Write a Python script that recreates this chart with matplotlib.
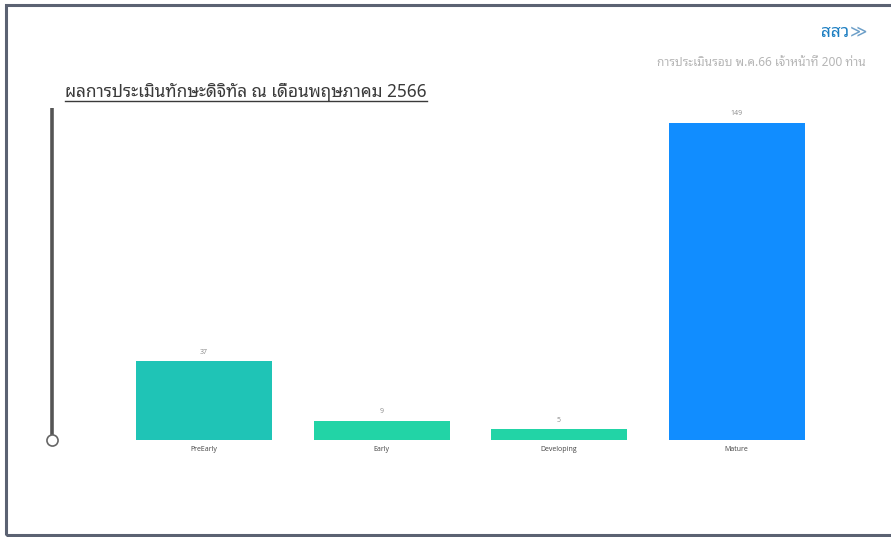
import matplotlib
matplotlib.use("Agg")
import matplotlib.pyplot as plt
from matplotlib.lines import Line2D
from matplotlib.patches import Rectangle

categories = ["PreEarly", "Early", "Developing", "Mature"]
values = [37, 9, 5, 149]
colors = ["#1fc4b6", "#22d4a6", "#22d4a6", "#118dff"]

title_text = "ผลการประเมินทักษะดิจิทัล ณ เดือนพฤษภาคม 2566"
subtitle_text = "การประเมินรอบ พ.ค.66 เจ้าหน้าที่ 200 ท่าน"
logo_text = "สสว"

THAI = ["Noto Sans Thai Looped", "Noto Sans Thai", "DejaVu Sans"]
LATIN = ["Open Sans", "DejaVu Sans"]

W, H = 891, 537
fig = plt.figure(figsize=(W / 100, H / 100), dpi=100)
fig.patch.set_facecolor("white")

def fx(px):
    return px / W

def fy(py):
    return 1 - py / H

# outer frame (right edge runs off the picture)
fig.add_artist(Rectangle((fx(6), fy(535)), fx(900) - fx(6), fy(5) - fy(535),
                         transform=fig.transFigure, fill=False,
                         edgecolor="#5b6272", linewidth=2.2))

# axes area: category 0 center at px 204, spacing 177.5 px; baseline px 440, 149 -> px 123
left_px, right_px = 45, 850
top_px, bot_px = 100, 440
ax = fig.add_axes([fx(left_px), fy(bot_px), fx(right_px) - fx(left_px), fy(top_px) - fy(bot_px)])
step = 177.5
x0 = (left_px - 204) / step
x1 = (right_px - 204) / step
ppu = (440 - 123) / 149.0
ax.set_xlim(x0, x1)
ax.set_ylim(0, (bot_px - top_px) / ppu)
ax.axis("off")

xs = list(range(len(categories)))
ax.bar(xs, values, width=136 / step, color=colors, edgecolor="none")
for x, v in zip(xs, values):
    ax.annotate(str(v), (x, v), xytext=(0, 4), textcoords="offset points",
                ha="center", va="bottom", fontsize=5, color="#8a8a8a", family=LATIN)
    ax.annotate(categories[x], (x, 0), xytext=(0, -4), textcoords="offset points",
                ha="center", va="top", fontsize=5, color="#444444", family=LATIN)

# vertical slider decoration
fig.add_artist(Line2D([fx(52), fx(52)], [fy(108), fy(435)], transform=fig.transFigure,
                      color="#555555", linewidth=2.6, solid_capstyle="butt"))
fig.add_artist(Line2D([fx(52)], [fy(440)], transform=fig.transFigure, marker="o",
                      markersize=8, markerfacecolor="white", markeredgecolor="#666666",
                      markeredgewidth=1.2, linestyle="none"))

# title with underline
t = fig.text(fx(65), fy(97), title_text, ha="left", va="baseline", fontsize=12.4,
             color="#3a3a3a", family=THAI)
fig.canvas.draw()
bb = t.get_window_extent()
fig.add_artist(Line2D([bb.x0 / W, bb.x1 / W], [fy(101), fy(101)], transform=fig.transFigure,
                      color="#3a3a3a", linewidth=1.0))

# logo and subtitle
fig.text(fx(849), fy(32), logo_text, ha="right", va="center", fontsize=12.5, fontweight="bold",
         color="#1e7fc2", family=THAI)
fig.text(fx(850), fy(31), "≫", ha="left", va="center", fontsize=12, color="#6d9fc8",
         family=["DejaVu Sans"])
fig.text(fx(866), fy(62), subtitle_text, ha="right", va="center", fontsize=8.6,
         color="#b5b5b5", family=THAI)

fig.savefig("out.png", dpi=100, facecolor="white")
